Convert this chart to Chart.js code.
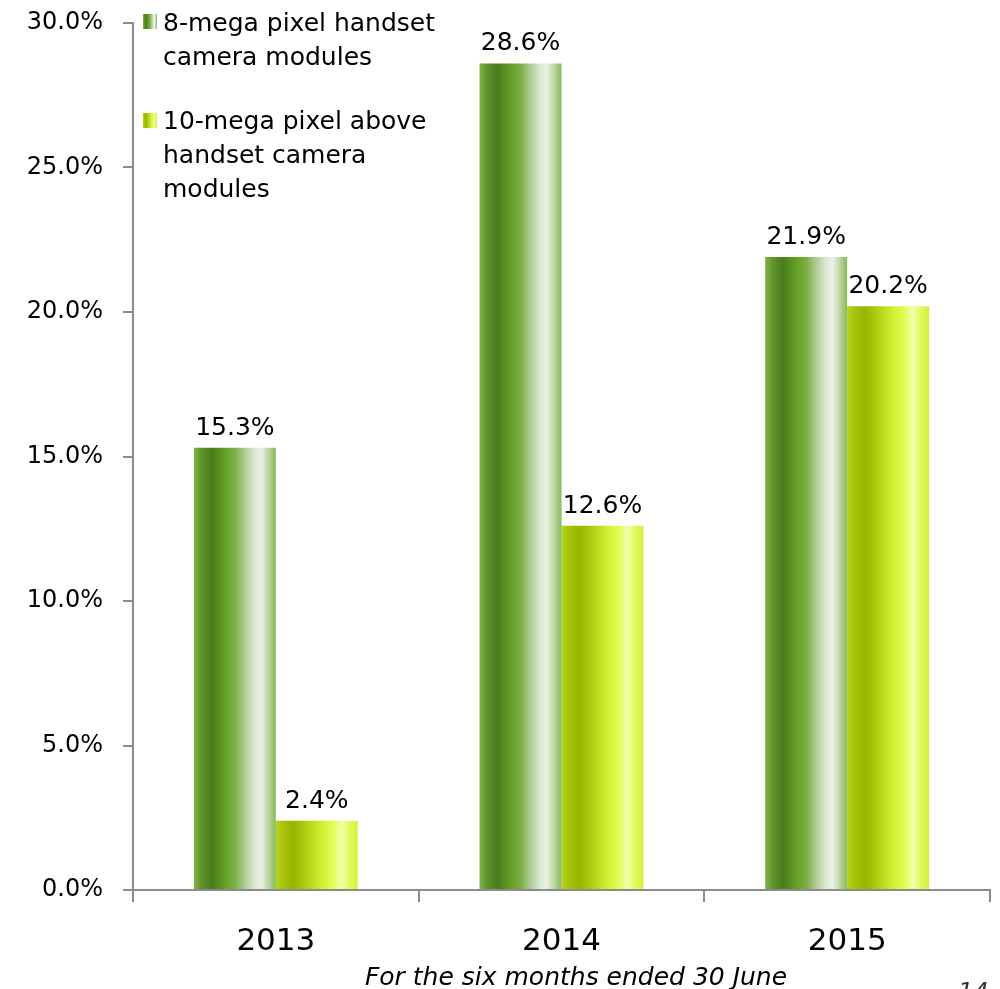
<!DOCTYPE html>
<html>
<head>
<meta charset="utf-8">
<script src="https://cdn.jsdelivr.net/npm/chart.js@4/dist/chart.umd.min.js"></script>
<style>
  html, body { margin: 0; padding: 0; background: #ffffff; }
  #wrap { width: 1000px; height: 989px; }
</style>
</head>
<body>
<div id="wrap"><canvas id="c" width="1000" height="989"></canvas></div>
<script>
// Share of handset camera module shipments, first half of each year
const years = ['2013', '2014', '2015'];
const eightMegaPixel = [15.3, 28.6, 21.9];
const tenMegaPixelAbove = [2.4, 12.6, 20.2];
const seriesNames = [
  ['8-mega pixel handset', 'camera modules'],
  ['10-mega pixel above', 'handset camera', 'modules']
];
const axisTitle = 'For the six months ended 30 June';
const pageNumber = '14';

const FONT = '"DejaVu Sans", Verdana, sans-serif';
const AXIS_GREY = '#8c8c8c';
const CAT_PCT = 0.574;

// Horizontal "cylinder" shading for each series
const greenStops = [
  [0.00, '#80b448'], [0.10, '#5e9229'], [0.22, '#4b7b1d'], [0.38, '#64a026'],
  [0.50, '#7cae44'], [0.62, '#aecb94'], [0.74, '#dbe8d2'], [0.82, '#eaf2e4'],
  [0.91, '#bcd6a4'], [1.00, '#86ba56']
];
const limeStops = [
  [0.00, '#b8d41c'], [0.10, '#a4c20a'], [0.22, '#96b600'], [0.40, '#b4d414'],
  [0.58, '#d4f236'], [0.70, '#e2fc58'], [0.80, '#f0ffa8'], [0.90, '#e0fa5c'],
  [1.00, '#d2f040']
];

function gradient(ctx, left, width, stops) {
  const g = ctx.createLinearGradient(left, 0, left + width, 0);
  stops.forEach(([o, col]) => g.addColorStop(o, col));
  return g;
}

// Gradient spans exactly the bar's own width, taken from the category scale
function barFill(stops) {
  return (c) => {
    const chart = c.chart;
    const xs = chart.scales.x;
    if (c.type !== 'data' || !xs || !chart.chartArea) return stops[4][1];
    const barW = (xs.width / years.length) * CAT_PCT / 2;
    const center = xs.getPixelForValue(c.dataIndex);
    const left = center + (c.datasetIndex - 1) * barW;
    return gradient(chart.ctx, left, barW, stops);
  };
}

const decor = {
  id: 'decor',
  afterDatasetsDraw(chart) {
    const ctx = chart.ctx;
    ctx.save();
    ctx.font = '25px ' + FONT;
    ctx.fillStyle = '#000';
    ctx.textAlign = 'center';
    ctx.textBaseline = 'alphabetic';
    chart.data.datasets.forEach((ds, di) => {
      chart.getDatasetMeta(di).data.forEach((bar, i) => {
        ctx.fillText(ds.data[i].toFixed(1) + '%', bar.x, bar.y - 13);
      });
    });
    ctx.restore();
  },
  afterDraw(chart) {
    const ctx = chart.ctx;
    ctx.save();
    // legend
    const items = [
      { stops: greenStops, boxY: 14, baseY: 31 },
      { stops: limeStops, boxY: 113, baseY: 129 }
    ];
    ctx.font = '25px ' + FONT;
    ctx.fillStyle = '#000';
    ctx.textAlign = 'left';
    ctx.textBaseline = 'alphabetic';
    items.forEach((it, k) => {
      ctx.fillStyle = gradient(ctx, 143, 14, it.stops);
      ctx.fillRect(143, it.boxY, 14, 15);
      ctx.fillStyle = '#000';
      seriesNames[k].forEach((line, j) => {
        ctx.fillText(line, 163, it.baseY + j * 34);
      });
    });
    // axis caption
    ctx.font = 'italic 25px ' + FONT;
    ctx.textAlign = 'center';
    ctx.fillText(axisTitle, 576, 985);
    // page number
    ctx.font = 'italic 24px ' + FONT;
    ctx.fillStyle = '#333';
    ctx.textAlign = 'left';
    ctx.fillText(pageNumber, 958, 1000);
    ctx.restore();
  }
};

new Chart(document.getElementById('c'), {
  type: 'bar',
  data: {
    labels: years,
    datasets: [
      { label: seriesNames[0].join(' '), data: eightMegaPixel, backgroundColor: barFill(greenStops) },
      { label: seriesNames[1].join(' '), data: tenMegaPixelAbove, backgroundColor: barFill(limeStops) }
    ]
  },
  options: {
    responsive: false,
    animation: false,
    devicePixelRatio: 1,
    layout: { padding: { left: 0, top: 23, right: 10, bottom: 0 } },
    datasets: { bar: { categoryPercentage: CAT_PCT, barPercentage: 1, borderWidth: 0 } },
    plugins: { legend: { display: false }, tooltip: { enabled: false } },
    scales: {
      x: {
        grid: { display: true, drawOnChartArea: false, offset: true, tickLength: 12, color: AXIS_GREY, lineWidth: 2 },
        border: { color: AXIS_GREY, width: 2 },
        ticks: { color: '#000', font: { family: FONT, size: 31 }, padding: 21 },
        afterFit(s) { s.height = 99; s.paddingLeft = 0; s.paddingRight = 0; }
      },
      y: {
        min: 0,
        max: 30,
        grid: { display: true, drawOnChartArea: false, tickLength: 10, color: AXIS_GREY, lineWidth: 2 },
        border: { color: AXIS_GREY, width: 2 },
        ticks: {
          stepSize: 5,
          color: '#000',
          font: { family: FONT, size: 24 },
          padding: 20,
          callback: (v) => v.toFixed(1) + '%'
        },
        afterFit(s) { s.width = 133; s.paddingTop = 0; s.paddingBottom = 0; }
      }
    }
  },
  plugins: [decor]
});
</script>
</body>
</html>
